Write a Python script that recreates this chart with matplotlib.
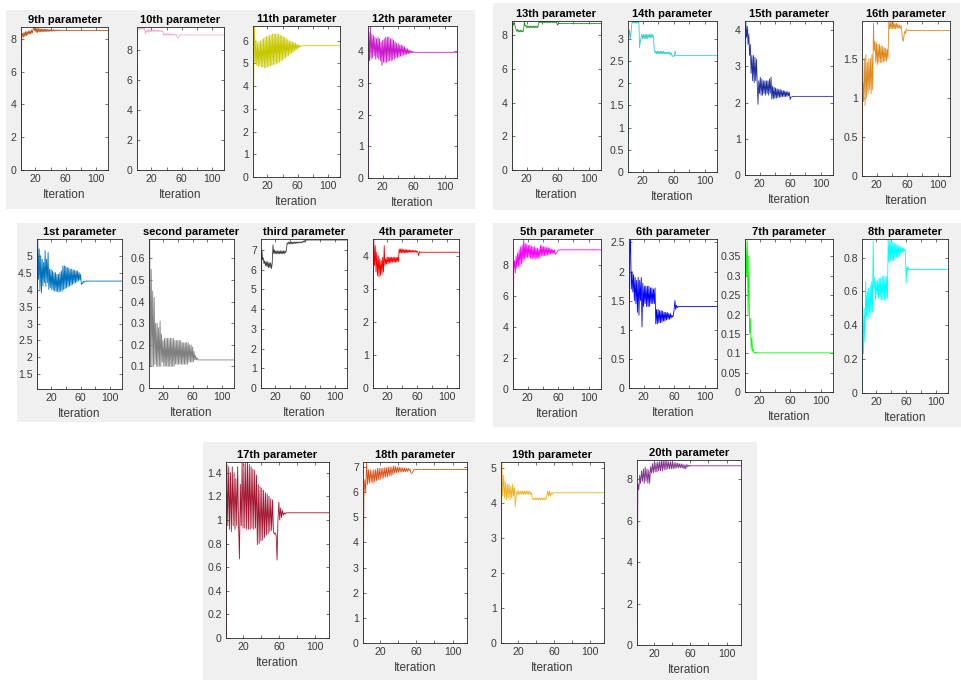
import matplotlib
matplotlib.use("Agg")
import matplotlib.pyplot as plt
from matplotlib.patches import Rectangle
from matplotlib.ticker import MultipleLocator, FuncFormatter
import numpy as np

# ----- DATA (values per iteration) -----
p01 = [1.07, 5.49, 4.3, 5.2, 4.0, 5.0, 3.9, 4.9, 4.1, 4.8, 4.2, 5.15, 4.1, 4.9, 4.2, 5.1, 4.0, 4.6,
       4.05, 4.6, 4.0, 4.55, 3.98, 4.5, 3.95, 4.5, 3.95, 4.45, 3.93, 4.45, 3.93, 4.5, 3.95, 4.55, 3.95,
       4.7, 4.0, 4.7, 4.02, 4.68, 4.05, 4.65, 4.08, 4.63, 4.1, 4.6, 4.12, 4.6, 4.15, 4.58, 4.18, 4.57,
       4.2, 4.55, 4.22, 4.55, 4.25, 4.5, 4.28, 4.45, 4.15, 4.2, 4.18, 4.25, 4.22, 4.24, 4.25]
p02 = [0.1, 0.69, 0.1, 0.55, 0.1, 0.45, 0.1, 0.42, 0.11, 0.3, 0.1, 0.3, 0.1, 0.28, 0.1, 0.31, 0.1,
       0.25, 0.12, 0.22, 0.1, 0.23, 0.1, 0.23, 0.1, 0.23, 0.1, 0.23, 0.1, 0.23, 0.1, 0.23, 0.1, 0.23,
       0.1, 0.22, 0.11, 0.22, 0.11, 0.22, 0.11, 0.22, 0.11, 0.22, 0.11, 0.21, 0.11, 0.21, 0.11, 0.21,
       0.11, 0.21, 0.11, 0.21, 0.12, 0.2, 0.12, 0.2, 0.12, 0.19, 0.12, 0.17, 0.13, 0.15, 0.13, 0.14,
       0.13, 0.13]
p03 = [0, 7.0, 6.5, 6.6, 6.3, 6.45, 6.2, 6.4, 6.15, 6.4, 6.1, 6.35, 6.1, 6.35, 6.05, 6.3, 7.25, 6.8,
       7.0, 6.8, 6.95, 6.8, 6.95, 6.8, 6.95, 6.8, 6.95, 6.8, 6.95, 6.8, 6.95, 6.8, 6.95, 6.85, 7.0,
       7.35, 7.3, 7.4, 7.3, 7.4, 7.3, 7.4, 7.3, 7.4, 7.32, 7.4, 7.32, 7.4, 7.33, 7.4, 7.35, 7.4, 7.35,
       7.4, 7.35, 7.42, 7.38, 7.45, 7.4, 7.5, 7.48, 7.5, 7.5]
p04 = [0, 4.5, 3.7, 4.3, 3.5, 4.1, 3.4, 4.0, 3.35, 3.9, 3.4, 3.85, 3.45, 3.95, 3.5, 4.3, 3.7, 3.9,
       3.75, 3.95, 3.75, 3.95, 3.78, 3.95, 3.78, 3.95, 3.8, 3.95, 3.8, 3.95, 3.8, 3.95, 3.8, 3.95,
       3.82, 4.2, 4.08, 4.2, 4.08, 4.2, 4.08, 4.18, 4.08, 4.18, 4.08, 4.18, 4.09, 4.17, 4.09, 4.17,
       4.1, 4.16, 4.1, 4.16, 4.1, 4.15, 4.1, 4.15, 4.1, 4.14, 4.1, 4.0, 4.12, 4.1, 4.1]
p05 = [0, 7.8, 8.3, 7.5, 8.6, 7.8, 8.8, 7.9, 9.0, 8.0, 9.2, 8.1, 9.3, 8.2, 9.7, 8.4, 9.4, 8.5, 9.35,
       8.5, 9.3, 8.5, 9.3, 8.45, 9.25, 8.4, 9.2, 8.45, 9.2, 8.4, 9.1, 8.45, 9.1, 8.45, 9.05, 8.5, 9.3,
       8.6, 9.25, 8.6, 9.2, 8.62, 9.2, 8.65, 9.15, 8.65, 9.15, 8.7, 9.1, 8.72, 9.05, 8.75, 9.0, 8.78,
       9.0, 8.7, 8.75, 8.8, 8.9, 8.95, 9.0, 8.98, 9.0]
p06 = [0, 2.3, 2.56, 1.7, 2.0, 1.65, 1.95, 1.5, 1.9, 1.45, 1.85, 1.3, 1.9, 1.25, 1.85, 1.5, 1.9,
       1.05, 1.8, 1.4, 1.75, 1.45, 1.75, 1.4, 1.75, 1.4, 1.75, 1.4, 1.72, 1.45, 1.72, 1.45, 1.7, 1.45,
       1.72, 1.1, 1.35, 1.1, 1.35, 1.12, 1.33, 1.12, 1.33, 1.13, 1.32, 1.15, 1.3, 1.15, 1.3, 1.17,
       1.3, 1.18, 1.28, 1.18, 1.28, 1.2, 1.25, 1.22, 1.25, 1.35, 1.5, 1.35, 1.42, 1.38, 1.4, 1.4]
p07 = [0, 0.395, 0.3, 0.39, 0.2, 0.35, 0.15, 0.19, 0.11, 0.14, 0.105, 0.11, 0.1, 0.103, 0.1,
       0.102, 0.101]
p08 = [0, 0.52, 0.23, 0.5, 0.3, 0.66, 0.45, 0.6, 0.43, 0.62, 0.47, 0.64, 0.45, 0.66, 0.48, 0.9,
       0.62, 0.68, 0.55, 0.66, 0.58, 0.67, 0.56, 0.68, 0.55, 0.68, 0.55, 0.69, 0.55, 0.69, 0.55, 0.69,
       0.55, 0.69, 0.56, 0.91, 0.77, 0.9, 0.78, 0.91, 0.78, 0.89, 0.78, 0.89, 0.79, 0.88, 0.8, 0.88,
       0.8, 0.87, 0.81, 0.87, 0.82, 0.86, 0.83, 0.86, 0.84, 0.85, 0.83, 0.65, 0.75, 0.72, 0.74, 0.73,
       0.73]
p09 = [0, 8.2, 8.35, 8.1, 8.4, 8.15, 8.45, 8.2, 8.45, 8.25, 8.5, 8.3, 8.5, 8.3, 8.55, 8.35, 8.6,
       8.73, 8.5, 8.7, 8.4, 8.65, 8.4, 8.65, 8.42, 8.62, 8.42, 8.62, 8.44, 8.6, 8.44, 8.6, 8.45, 8.6,
       8.45, 8.58, 8.46, 8.58, 8.47, 8.57, 8.47, 8.56, 8.48, 8.56, 8.48, 8.55, 8.49, 8.55, 8.5, 8.54,
       8.5, 8.54, 8.5, 8.53, 8.51, 8.53, 8.52, 8.52, 8.52]
p10 = [0, 9.4, 9.5, 9.35, 9.55, 9.4, 9.5, 9.4, 9.5, 9.4, 9.45, 9.1, 9.3, 9.2, 9.35, 9.2, 9.4, 9.2,
       9.35, 9.25, 9.35, 9.25, 9.4, 9.25, 9.35, 9.25, 9.35, 9.25, 9.35, 9.25, 9.3, 9.25, 9.3, 9.25,
       9.3, 9.0, 9.1, 9.0, 9.1, 9.0, 9.1, 9.0, 9.1, 9.0, 9.1, 9.0, 9.08, 9.0, 9.08, 9.0, 9.08, 9.0,
       9.05, 8.85, 8.8, 8.85, 9.0, 9.0, 9.02]
p11 = [0, 4.4, 6.65, 5.0, 6.0, 4.9, 5.9, 4.85, 5.95, 4.9, 6.0, 4.85, 6.05, 4.85, 6.1, 4.8, 6.15,
       4.8, 6.2, 4.85, 6.2, 4.85, 6.25, 4.9, 6.25, 4.9, 6.3, 4.95, 6.3, 4.95, 6.3, 5.0, 6.3, 5.0, 6.28,
       5.05, 6.25, 5.1, 6.22, 5.15, 6.2, 5.2, 6.15, 5.25, 6.1, 5.3, 6.05, 5.35, 6.0, 5.4, 5.98, 5.45,
       5.95, 5.5, 5.92, 5.55, 5.9, 5.6, 5.85, 5.65, 5.82, 5.7, 5.8, 5.75, 5.78, 5.77, 5.78]
p12 = [0, 4.6, 3.7, 4.8, 3.75, 4.55, 3.8, 4.5, 3.85, 4.45, 3.75, 4.4, 3.8, 4.45, 3.75, 4.4, 3.7,
       4.3, 3.55, 4.35, 3.65, 4.4, 3.65, 4.45, 3.65, 4.45, 3.68, 4.45, 3.7, 4.4, 3.7, 4.4, 3.72, 4.35,
       3.75, 4.3, 3.78, 4.25, 3.8, 4.25, 3.82, 4.2, 3.84, 4.2, 3.86, 4.18, 3.88, 4.15, 3.9, 4.1, 3.9,
       4.08, 3.92, 4.05, 3.94, 4.02, 3.95, 4.0, 3.96, 3.98, 3.97, 3.97]
p13 = [0, 8.75, 8.6, 8.8, 8.55, 8.4, 8.25, 8.35, 8.2, 8.3, 8.2, 8.3, 8.2, 8.3, 8.2, 8.3, 8.85, 8.55,
       8.6, 8.45, 8.55, 8.45, 8.55, 8.45, 8.55, 8.45, 8.55, 8.45, 8.55, 8.45, 8.55, 8.45, 8.55, 8.45,
       8.6, 8.85, 8.75, 8.85, 8.75, 8.85, 8.75, 8.85, 8.75, 8.85, 8.75, 8.83, 8.75, 8.83, 8.75, 8.82,
       8.76, 8.82, 8.76, 8.8, 8.76, 8.8, 8.76, 8.78, 8.72, 8.6, 8.72, 8.7, 8.7]
p14 = [0, 3.05, 3.2, 3.0, 3.15, 3.35, 3.4, 3.35, 3.4, 3.35, 3.4, 3.35, 3.4, 3.35, 3.4, 2.8, 2.95,
       3.05, 3.1, 3.0, 3.1, 3.0, 3.1, 3.0, 3.1, 3.0, 3.1, 3.02, 3.1, 3.02, 3.1, 3.02, 3.1, 3.02, 2.75,
       2.68, 2.72, 2.66, 2.72, 2.66, 2.72, 2.66, 2.72, 2.66, 2.72, 2.66, 2.72, 2.66, 2.7, 2.66, 2.7,
       2.66, 2.7, 2.65, 2.7, 2.65, 2.68, 2.6, 2.62, 2.6, 2.62, 2.72, 2.62, 2.62]
p15 = [0, 4.25, 3.8, 4.1, 3.6, 3.9, 3.3, 3.6, 2.8, 3.3, 2.6, 3.3, 2.55, 3.25, 2.6, 3.2, 2.5, 1.95,
       2.6, 2.25, 2.7, 2.2, 2.65, 2.2, 2.6, 2.25, 2.6, 2.2, 2.6, 2.25, 2.6, 2.2, 2.65, 2.25, 2.7, 2.1,
       2.45, 2.1, 2.42, 2.12, 2.4, 2.12, 2.38, 2.14, 2.36, 2.14, 2.36, 2.15, 2.34, 2.16, 2.33, 2.16,
       2.32, 2.16, 2.3, 2.17, 2.3, 2.18, 2.28, 2.08, 2.15, 2.15, 2.17]
p16 = [0, 1.2, 0.95, 1.5, 0.9, 1.55, 1.0, 1.45, 1.05, 1.5, 1.1, 1.5, 1.05, 1.55, 1.1, 1.95, 1.6,
       1.72, 1.45, 1.7, 1.42, 1.68, 1.45, 1.68, 1.45, 1.66, 1.45, 1.66, 1.46, 1.64, 1.46, 1.63, 1.47,
       1.62, 1.5, 1.97, 1.88, 1.97, 1.88, 1.96, 1.88, 1.96, 1.88, 1.95, 1.88, 1.95, 1.89, 1.94, 1.89,
       1.93, 1.88, 1.92, 1.85, 1.75, 1.72, 1.8, 1.85, 1.82, 1.88, 1.86, 1.86]
p17 = [0, 1.47, 0.95, 1.45, 0.92, 1.4, 0.9, 1.45, 0.95, 1.4, 0.92, 1.35, 0.95, 1.45, 0.97, 0.67,
       1.3, 0.95, 1.48, 0.93, 1.47, 0.93, 1.48, 0.92, 1.49, 0.92, 1.47, 0.92, 1.45, 0.93, 1.43, 0.92,
       1.42, 0.93, 1.38, 0.79, 1.3, 0.8, 1.28, 0.82, 1.27, 0.83, 1.25, 0.85, 1.23, 0.87, 1.22, 0.88,
       1.2, 0.9, 1.18, 0.91, 1.17, 0.9, 0.88, 0.89, 0.87, 0.66, 1.0, 1.15, 1.0, 1.1, 1.02, 1.08, 1.04,
       1.06, 1.05, 1.06]
p18 = [0, 5.8, 6.5, 6.0, 7.2, 6.3, 6.9, 6.35, 6.9, 6.4, 6.85, 6.35, 6.9, 6.4, 6.9, 6.45, 6.95, 6.5,
       6.95, 6.5, 6.95, 6.55, 6.95, 6.55, 6.97, 6.6, 6.97, 6.6, 7.0, 6.65, 7.0, 6.65, 7.0, 6.7, 7.05,
       6.75, 7.02, 6.78, 7.0, 6.78, 7.0, 6.8, 6.98, 6.8, 6.97, 6.8, 6.96, 6.82, 6.95, 6.82, 6.95, 6.85,
       6.92, 6.75, 6.75, 6.8, 6.88, 6.9, 6.9]
p19 = [0, 5.18, 4.2, 4.8, 4.15, 4.6, 4.1, 4.55, 4.15, 4.55, 4.1, 4.5, 4.15, 4.55, 4.2, 4.45, 3.9,
       4.2, 4.35, 4.25, 4.35, 4.25, 4.35, 4.25, 4.35, 4.25, 4.35, 4.25, 4.35, 4.25, 4.35, 4.25, 4.35,
       4.25, 4.3, 4.15, 4.1, 4.15, 4.1, 4.15, 4.1, 4.15, 4.1, 4.15, 4.1, 4.15, 4.1, 4.15, 4.1, 4.15,
       4.1, 4.18, 4.35, 4.2, 4.35, 4.2, 4.3, 4.25, 4.3, 4.3, 4.3]
p20 = [0, 7.8, 7.5, 8.2, 7.8, 8.4, 7.9, 8.5, 7.8, 8.6, 7.9, 8.5, 7.8, 8.45, 7.8, 8.6, 8.3, 8.75,
       8.3, 8.8, 8.35, 8.8, 8.35, 8.85, 8.4, 8.85, 8.4, 8.9, 8.4, 8.9, 8.45, 8.93, 8.45, 8.9, 8.5,
       8.85, 8.5, 8.85, 8.5, 8.82, 8.5, 8.8, 8.52, 8.8, 8.55, 8.78, 8.55, 8.75, 8.55, 8.75, 8.55, 8.72,
       8.5, 8.7, 8.5, 8.72, 8.6, 8.68, 8.62, 8.66, 8.65, 8.65]

series = [p01, p02, p03, p04, p05, p06, p07, p08, p09, p10,
          p11, p12, p13, p14, p15, p16, p17, p18, p19, p20]
titles = ["1st parameter", "second parameter", "third parameter", "4th parameter",
          "5th parameter", "6th parameter", "7th parameter", "8th parameter",
          "9th parameter", "10th parameter", "11th parameter", "12th parameter",
          "13th parameter", "14th parameter", "15th parameter", "16th parameter",
          "17th parameter", "18th parameter", "19th parameter", "20th parameter"]
colors = ["#0072BD", "#808080", "#404040", "#FF0000", "#FF00FF", "#0000FF", "#00FF00", "#00FFFF",
          "#B9541C", "#F7A8D0", "#C8C800", "#CC19CC", "#1E961E", "#33CCCC", "#1F2F9F", "#E08A1E",
          "#A2142F", "#D95319", "#EDB120", "#7E2F8E"]
y_low = [1.07, 0, 0, 0, 0, 0, 0, 0, 0, 0, 0, 0, 0, 0, 0, 0, 0, 0, 0, 0]
y_high = [5.49, 0.69, 7.55, 4.5, 9.7, 2.56, 0.395, 0.91, 8.73, 9.55,
          6.65, 4.8, 8.85, 3.4, 4.25, 1.98, 1.49, 7.2, 5.18, 8.93]
y_step = [0.5, 0.1, 1, 1, 2, 0.5, 0.05, 0.2, 2, 2, 1, 1, 2, 0.5, 1, 0.5, 0.2, 1, 1, 2]
x_ticks = [20, 40, 60, 80, 100]
x_labels = ["20", "", "60", "", "100"]
n_iter = 116

# ----- LAYOUT (pixel boxes: left, top, right, bottom) -----
W, H = 962, 684
panel_boxes = [(6, 10, 475, 209), (493, 3, 960, 210), (17, 223, 475, 422),
               (493, 223, 962, 427), (203, 442, 757, 680)]
axes_boxes = [(37, 239, 122, 389), (149, 239, 234, 388), (261, 239, 347, 388), (373, 239, 459, 388),
              (513, 239, 601, 389), (629, 239, 717, 388), (745, 239, 833, 392), (862, 239, 948, 393),
              (21, 27, 108, 170), (137, 27, 224, 170), (253, 26, 340, 177), (368, 26, 457, 178),
              (512, 21, 601, 170), (628, 21, 717, 172), (745, 21, 833, 175), (862, 21, 950, 176),
              (226, 462, 329, 638), (363, 462, 467, 643), (501, 462, 604, 643), (637, 460, 741, 645)]

plt.rcParams['font.family'] = ['Liberation Sans', 'DejaVu Sans']
ink = "#3a3a3a"

fig = plt.figure(figsize=(W / 100, H / 100), dpi=100)
fig.patch.set_facecolor("white")

for x0, y0, x1, y1 in panel_boxes:
    fig.patches.append(Rectangle((x0 / W, 1 - y1 / H), (x1 - x0) / W, (y1 - y0) / H,
                                 transform=fig.transFigure, facecolor="#F0F0F0",
                                 edgecolor="none", zorder=-10))

fmt = FuncFormatter(lambda v, pos: f"{round(v, 4):g}")

for k, vals in enumerate(series):
    l, t, r, b = axes_boxes[k]
    ax = fig.add_axes([l / W, 1 - b / H, (r - l) / W, (b - t) / H])
    ax.set_zorder(1)
    ax.set_facecolor("white")
    x = list(range(1, len(vals) + 1)) + [n_iter]
    y = list(vals) + [vals[-1]]
    ax.plot(x, y, color=colors[k], lw=0.6)
    ax.set_xlim(1, n_iter)
    ax.set_ylim(y_low[k], y_high[k])
    ax.set_xticks(x_ticks)
    ax.set_xticklabels(x_labels)
    ax.yaxis.set_major_locator(MultipleLocator(y_step[k]))
    ax.yaxis.set_major_formatter(fmt)
    ax.tick_params(direction="in", length=2.5, width=0.5, top=True, right=True,
                   labelsize=7.6, colors=ink, pad=3)
    for s in ax.spines.values():
        s.set_linewidth(0.6)
        s.set_color("#262626")
    ax.set_title(titles[k], fontsize=8, fontweight="bold", color="black", pad=3)
    ax.set_xlabel("Iteration", fontsize=8.5, color=ink, labelpad=3.5)

fig.savefig("out.png", dpi=100, facecolor="white")
